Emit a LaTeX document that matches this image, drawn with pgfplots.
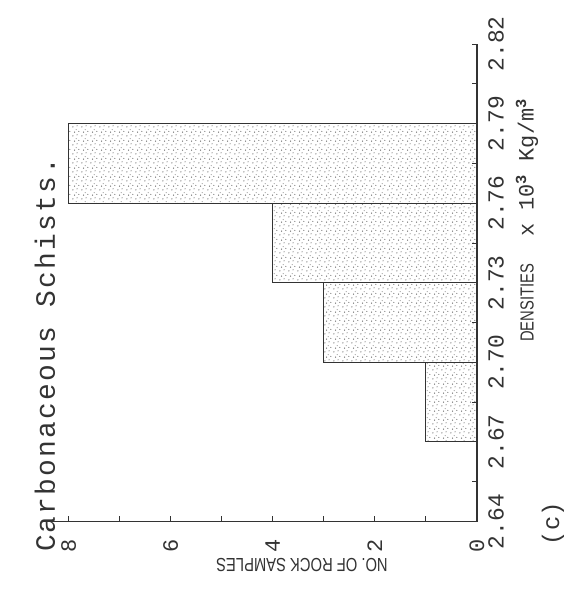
\documentclass[border=0pt]{standalone}
\usepackage{fontspec}
\setmainfont{Liberation Mono}
\newfontfamily\titlefont[LetterSpace=8]{Liberation Mono}
\newfontfamily\narrowsans[FakeStretch=0.78]{Liberation Sans}
\usepackage{pgfplots}
\pgfplotsset{compat=1.18}
\usetikzlibrary{patterns.meta}

% irregular stipple used to shade the histogram bars
\tikzdeclarepattern{
  name=stipple,
  type=uncolored,
  bounding box={(0,0) and (9bp,9bp)},
  tile size={(9bp,9bp)},
  code={
    \fill (1.0bp,1.2bp) circle (0.7bp);
    \fill (5.6bp,2.4bp) circle (0.6bp);
    \fill (2.8bp,5.4bp) circle (0.7bp);
    \fill (7.6bp,6.2bp) circle (0.6bp);
    \fill (4.6bp,8.1bp) circle (0.5bp);
  }
}

\definecolor{ink}{gray}{0.2}

% density class starts and number of samples in each class
\pgfplotstableread{
count density
1 2.67
3 2.70
4 2.73
8 2.76
8 2.79
}\schists

\begin{document}
\begin{tikzpicture}
\path[use as bounding box] (0,0) rectangle (572bp,596bp);
\begin{axis}[
  at={(477bp,74.5bp)}, anchor=south east,
  scale only axis, width=434bp, height=477.5bp,
  x dir=reverse,
  xmin=0, xmax=8.5, ymin=2.64, ymax=2.82,
  axis x line*=bottom, axis y line*=right,
  axis line style={ink, line width=1.4bp, -},
  tick style={ink, line width=0.9bp},
  tick align=inside,
  major tick length=5bp, minor tick length=5bp,
  xtick={0,2,4,6,8}, xticklabels={0,2,4,6,8},
  minor x tick num=1,
  ytick={2.64,2.67,2.70,2.73,2.76,2.79,2.82},
  yticklabels={2.64,2.67,2.70,2.73,2.76,2.79,2.82},
  minor y tick num=1,
  xticklabel style={yshift=-18bp, rotate=90, anchor=east, inner sep=0pt,
    font=\fontsize{22}{24}\selectfont, text=ink},
  yticklabel style={xshift=11bp, rotate=90, anchor=north, inner sep=0pt,
    font=\fontsize{23}{25}\selectfont, text=ink},
  axis on top,
]
\addplot[xbar interval, draw=ink, line width=1.1bp,
  pattern=stipple, pattern color=black!65]
  table[x=count, y=density] {\schists};
\end{axis}

% title and axis captions
\node[rotate=90, text=ink, inner sep=0pt, font=\titlefont\fontsize{28}{30}\selectfont]
  at (45bp,241bp) {Carbonaceous Schists.};
\node[rotate=180, text=ink, inner sep=0pt, font=\narrowsans\fontsize{19}{21}\selectfont]
  at (302bp,31bp) {NO. OF ROCK SAMPLES};
\node[rotate=90, anchor=west, text=ink, inner sep=0pt, font=\fontsize{22}{24}\selectfont]
  at (527bp,254bp) {{\narrowsans\fontsize{19}{21}\selectfont DENSITIES}\hspace{14bp} x 10\textsuperscript{\textbf{3}} Kg/m\textsuperscript{\textbf{3}}};
\node[rotate=90, text=ink, inner sep=0pt, font=\fontsize{24}{26}\selectfont]
  at (553bp,72.5bp) {(c)};
\end{tikzpicture}
\end{document}
